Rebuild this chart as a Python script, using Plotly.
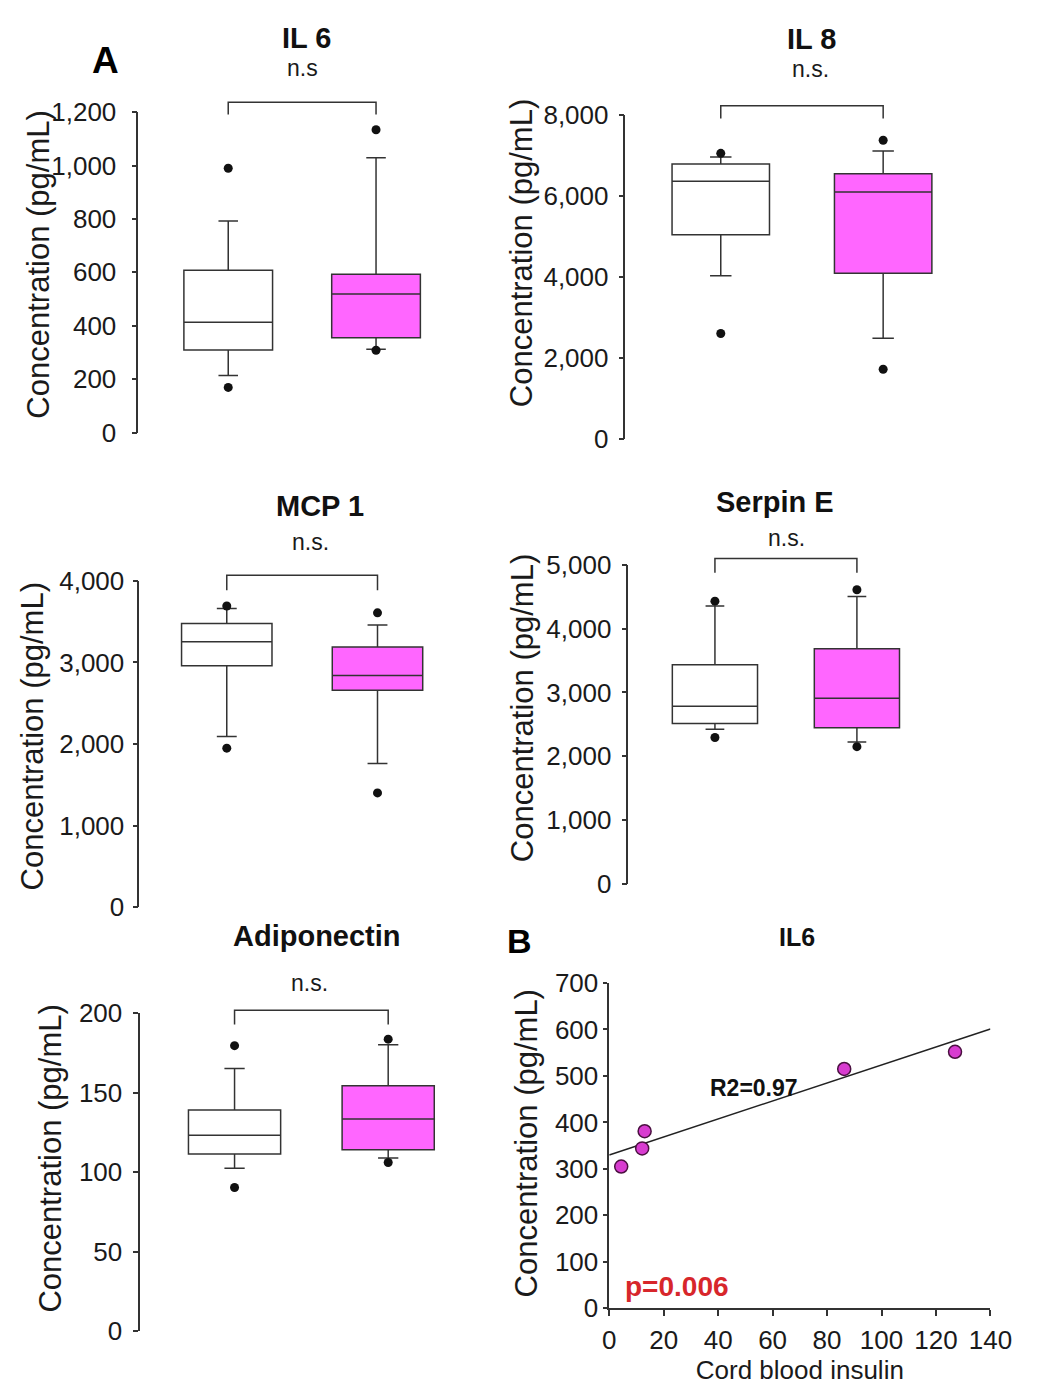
import plotly.graph_objects as go

# ---------------- data ----------------
groups = ["Control", "Case"]

il6_q1 = [309, 355]
il6_median = [413, 519]
il6_q3 = [608, 593]
il6_lower = [214, 312]
il6_upper = [792, 1029]
il6_outliers = [[990, 169], [1134, 308]]

il8_q1 = [5036, 4089]
il8_median = [6354, 6089]
il8_q3 = [6778, 6538]
il8_lower = [4024, 2482]
il8_upper = [6955, 7100]
il8_outliers = [[7043, 2602], [7366, 1718]]

mcp1_q1 = [2960, 2660]
mcp1_median = [3252, 2840]
mcp1_q3 = [3476, 3188]
mcp1_lower = [2093, 1760]
mcp1_upper = [3660, 3460]
mcp1_outliers = [[3692, 1949], [3608, 1400]]

serpin_q1 = [2515, 2449]
serpin_median = [2786, 2908]
serpin_q3 = [3433, 3683]
serpin_lower = [2424, 2224]
serpin_upper = [4352, 4500]
serpin_outliers = [[4428, 2296], [4607, 2152]]

adipo_q1 = [111.4, 114.0]
adipo_median = [123.1, 133.3]
adipo_q3 = [139.1, 154.3]
adipo_lower = [102.4, 108.9]
adipo_upper = [165.1, 180.1]
adipo_outliers = [[179.5, 90.3], [183.6, 106.0]]

insulin = [4.4, 12.1, 13.0, 86.3, 127.0]
il6_conc = [305, 344, 381, 515, 552]
trend_x = [0, 140]
trend_y = [330, 601]

il6_ticks = [0, 200, 400, 600, 800, 1000, 1200]
il8_ticks = [0, 2000, 4000, 6000, 8000]
mcp1_ticks = [0, 1000, 2000, 3000, 4000]
serpin_ticks = [0, 1000, 2000, 3000, 4000, 5000]
adipo_ticks = [0, 50, 100, 150, 200]
scatter_yticks = [0, 100, 200, 300, 400, 500, 600, 700]
scatter_xticks = [0, 20, 40, 60, 80, 100, 120, 140]

# ---------------- styling / layout ----------------
W, H = 1052, 1395
FONT = "Liberation Sans, Arial, sans-serif"
INK = "#1a1a1a"
AX = "#333333"
MAGENTA = "#FF66FF"


def fx(px):
    return px / W


def fy(py):
    return 1 - py / H


def label(text, px, py, size, color=INK, angle=0):
    return dict(text=text, x=fx(px), y=fy(py), xref="paper", yref="paper", showarrow=False,
                xanchor="center", yanchor="middle", textangle=angle,
                font=dict(family=FONT, size=size, color=color))


panels = [
    dict(title="IL 6", ns="n.s", q1=il6_q1, med=il6_median, q3=il6_q3, lo=il6_lower, hi=il6_upper,
         out=il6_outliers, ticks=il6_ticks, ymax=1200, geo=(135, 470, 99.3, 426.7, 227.5, 379.5),
         tpos=(308, 24), npos=(304, 54), ypos=(32, 255), br=(1237, 1191), so=10),
    dict(title="IL 8", ns="n.s.", q1=il8_q1, med=il8_median, q3=il8_q3, lo=il8_lower, hi=il8_upper,
         out=il8_outliers, ticks=il8_ticks, ymax=8000, geo=(636, 1010, 101.7, 433.3, 734, 901),
         tpos=(827, 25), npos=(826, 55), ypos=(529, 243), br=(8217, 7900), so=5),
    dict(title="MCP 1", ns="n.s.", q1=mcp1_q1, med=mcp1_median, q3=mcp1_q3, lo=mcp1_lower, hi=mcp1_upper,
         out=mcp1_outliers, ticks=mcp1_ticks, ymax=4000, geo=(136, 470, 578.3, 911.7, 226, 381),
         tpos=(322, 502), npos=(312, 539), ypos=(26, 737), br=(4068, 3884), so=3),
    dict(title="Serpin E", ns="n.s.", q1=serpin_q1, med=serpin_median, q3=serpin_q3, lo=serpin_lower,
         hi=serpin_upper, out=serpin_outliers, ticks=serpin_ticks, ymax=5000,
         geo=(639, 1010, 561.7, 888.3, 728, 874), tpos=(790, 498), npos=(802, 534), ypos=(530, 708),
         br=(5097, 4872), so=5),
    dict(title="Adiponectin", ns="n.s.", q1=adipo_q1, med=adipo_median, q3=adipo_q3, lo=adipo_lower,
         hi=adipo_upper, out=adipo_outliers, ticks=adipo_ticks, ymax=200,
         geo=(137, 470, 1020, 1345, 234, 392), tpos=(319, 941), npos=(311, 989), ypos=(45, 1169),
         br=(201.8, 192.8), so=6),
]

fig = go.Figure()
annotations = []
shapes = []
layout = {}

for i, p in enumerate(panels, start=1):
    xa = "x" if i == 1 else f"x{i}"
    ya = "y" if i == 1 else f"y{i}"
    axis_px, right_px, top_px, bot_px, c0, c1 = p["geo"]
    unit = c1 - c0
    r0 = -(c0 - axis_px) / unit
    r1 = (right_px - c0) / unit
    fills = ["white", MAGENTA]
    for g in range(2):
        fig.add_trace(go.Box(
            x=[g], q1=[p["q1"][g]], median=[p["med"][g]], q3=[p["q3"][g]],
            lowerfence=[p["lo"][g]], upperfence=[p["hi"][g]],
            orientation="v", width=0.6, whiskerwidth=0.22, boxpoints=False,
            fillcolor=fills[g], line=dict(color=AX, width=1.5),
            name=groups[g], showlegend=False, hoverinfo="skip",
            xaxis=xa, yaxis=ya,
        ))
        fig.add_trace(go.Scatter(
            x=[g] * len(p["out"][g]), y=p["out"][g], mode="markers",
            marker=dict(color="#111111", size=9), cliponaxis=False,
            showlegend=False, hoverinfo="skip", xaxis=xa, yaxis=ya,
        ))
    key = "" if i == 1 else str(i)
    layout[f"xaxis{key}"] = dict(domain=[fx(axis_px), fx(right_px)], range=[r0, r1], visible=False,
                                 anchor=ya, fixedrange=True)
    layout[f"yaxis{key}"] = dict(domain=[fy(bot_px), fy(top_px)], range=[0, p["ymax"]], anchor=xa,
                                 tickvals=p["ticks"], tickformat=",", ticks="outside", ticklen=5,
                                 tickcolor=AX, tickwidth=1.5, showline=True, linecolor=AX, linewidth=1.5,
                                 showgrid=False, zeroline=False, ticklabelstandoff=p["so"],
                                 tickfont=dict(family=FONT, size=26, color=INK), fixedrange=True)
    # significance bracket (domain-relative coordinates so it is not clipped)
    top, drop = p["br"]
    bx0 = (0 - r0) / (r1 - r0)
    bx1 = (1 - r0) / (r1 - r0)
    yt = top / p["ymax"]
    yd = drop / p["ymax"]
    shapes.append(dict(type="path", xref=f"{xa} domain", yref=f"{ya} domain",
                       path=f"M {bx0},{yd} L {bx0},{yt} L {bx1},{yt} L {bx1},{yd}",
                       line=dict(color=AX, width=1.5)))
    annotations.append(label(f"<b>{p['title']}</b>", p["tpos"][0], p["tpos"][1], 29, "#111111"))
    annotations.append(label(p["ns"], p["npos"][0], p["npos"][1], 23))
    annotations.append(label("Concentration (pg/mL)", p["ypos"][0], p["ypos"][1], 31, angle=-90))

# ---------------- panel B scatter ----------------
fig.add_trace(go.Scatter(x=trend_x, y=trend_y, mode="lines", line=dict(color="#222222", width=1.5),
                         showlegend=False, hoverinfo="skip", xaxis="x6", yaxis="y6"))
fig.add_trace(go.Scatter(x=insulin, y=il6_conc, mode="markers",
                         marker=dict(color="#D83CD0", size=13, line=dict(color="#4a1040", width=1.5)),
                         cliponaxis=False, showlegend=False, xaxis="x6", yaxis="y6"))
layout["xaxis6"] = dict(domain=[fx(619.3), fx(1011.3)], range=[0, 140], anchor="y6", tickvals=scatter_xticks,
                        ticks="outside", ticklen=6, tickcolor=AX, tickwidth=1.5, showline=True,
                        linecolor=AX, linewidth=2, showgrid=False, zeroline=False, ticklabelstandoff=2,
                        tickfont=dict(family=FONT, size=26, color=INK), fixedrange=True,
                        title=dict(text="Cord blood insulin", font=dict(family=FONT, size=26, color=INK),
                                   standoff=2))
layout["yaxis6"] = dict(domain=[fy(1321.7), fy(989.3)], range=[0, 700], anchor="x6", tickvals=scatter_yticks,
                        ticks="outside", ticklen=4, tickcolor=AX, tickwidth=1.5, showline=True,
                        linecolor=AX, linewidth=1.5, showgrid=False, zeroline=False, ticklabelstandoff=0,
                        tickfont=dict(family=FONT, size=26, color=INK), fixedrange=True)

annotations += [
    label("Concentration (pg/mL)", 534, 1153, 31, angle=-90),
    label("<b>IL6</b>", 812, 942, 25, "#111111"),
    label("<b>R2=0.97</b>", 768, 1097, 23, "#111111"),
    label("<b>p=0.006</b>", 689, 1299, 28, "#D7262B"),
    label("<b>A</b>", 101, 46, 37, "#000000"),
    label("<b>B</b>", 527, 946, 34, "#000000"),
]

fig.update_layout(width=W, height=H, margin=dict(l=0, r=0, t=0, b=0, pad=0),
                  paper_bgcolor="white", plot_bgcolor="white",
                  annotations=annotations, shapes=shapes, showlegend=False, **layout)

fig.write_html("out.html")
